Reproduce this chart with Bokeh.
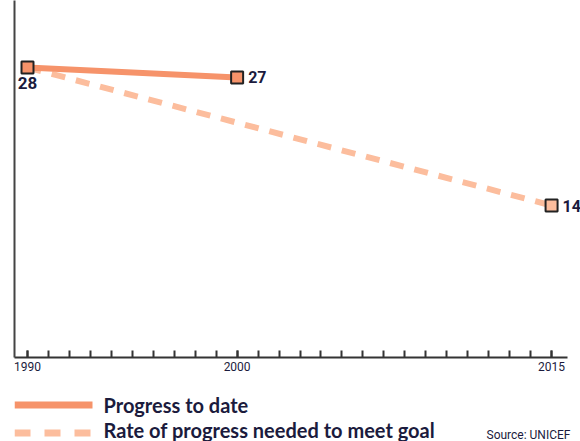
from bokeh.plotting import figure
from bokeh.layouts import column
from bokeh.models import FixedTicker, LabelSet, ColumnDataSource, Range1d
from bokeh.core.properties import value
from bokeh.embed import file_html
from bokeh.resources import INLINE

# ---- data ----
progress_years = [1990, 2000]
progress_values = [28, 27]
goal_years = [1990, 2015]
goal_values = [28, 14]
tick_label_years = [1990, 2000, 2015]
minor_years = list(range(1990, 2016))
legend_labels = ["Progress to date", "Rate of progress needed to meet goal"]
source_text = "Source: UNICEF"

SOLID = "#f6936a"
DASH = "#fcbd9d"
INK = "#1b1b3d"
NUMFONT = "Roboto"

X0, X1 = 1989.38, 2016.38

# ---- main chart ----
p = figure(width=580, height=382,
           x_range=Range1d(X0, X1), y_range=Range1d(-1.42, 34.8),
           output_backend="svg", toolbar_location=None,
           min_border_left=14, min_border_right=0, min_border_top=0, min_border_bottom=25)
p.outline_line_color = None
p.xgrid.visible = False
p.ygrid.visible = False

p.line(goal_years, goal_values, line_color=DASH, line_width=6, line_dash="14 11")
p.line(progress_years, progress_values, line_color=SOLID, line_width=6)
p.scatter(goal_years[-1:], goal_values[-1:], marker="square", size=12,
          fill_color=DASH, line_color="#222222", line_width=2)
p.scatter(progress_years, progress_values, marker="square", size=12,
          fill_color=SOLID, line_color="#222222", line_width=2)

first_src = ColumnDataSource(dict(x=progress_years[:1], y=progress_values[:1],
                                  t=[str(v) for v in progress_values[:1]]))
right_src = ColumnDataSource(dict(x=[progress_years[-1], goal_years[-1]],
                                  y=[progress_values[-1], goal_values[-1]],
                                  t=[str(progress_values[-1]), str(goal_values[-1])]))
p.add_layout(LabelSet(x="x", y="y", text="t", source=first_src, x_offset=0, y_offset=-9,
                      text_align="center", text_baseline="top", text_font=value(NUMFONT),
                      text_font_size="17px", text_font_style="bold", text_color=INK))
p.add_layout(LabelSet(x="x", y="y", text="t", source=right_src, x_offset=11, y_offset=0,
                      text_align="left", text_baseline="middle", text_font=value(NUMFONT),
                      text_font_size="16px", text_font_style="bold", text_color=INK))

xa = p.xaxis[0]
xa.bounds = (X0, 2015.76)
xa.ticker = FixedTicker(ticks=tick_label_years, minor_ticks=minor_years)
xa.major_tick_in = 7
xa.major_tick_out = 0
xa.minor_tick_in = 7
xa.minor_tick_out = 0
xa.axis_line_width = 2
xa.axis_line_color = "#333333"
xa.major_tick_line_width = 2
xa.minor_tick_line_width = 2
xa.major_tick_line_color = "#333333"
xa.minor_tick_line_color = "#333333"
xa.major_label_text_font = NUMFONT
xa.major_label_text_font_size = "12px"
xa.major_label_text_color = INK
xa.major_label_standoff = 4

ya = p.yaxis[0]
ya.ticker = FixedTicker(ticks=[])
ya.major_tick_in = 0
ya.major_tick_out = 0
ya.minor_tick_in = 0
ya.minor_tick_out = 0
ya.major_label_text_font_size = "0px"
ya.axis_line_width = 2
ya.axis_line_color = "#444444"

# ---- legend strip (x = page pixels, y grows downward from strip top) ----
q = figure(width=580, height=59, x_range=Range1d(14, 580), y_range=Range1d(59, 0),
           output_backend="svg", toolbar_location=None,
           x_axis_location=None, y_axis_location=None,
           min_border_left=14, min_border_right=0, min_border_top=0, min_border_bottom=0)
q.outline_line_color = None
q.grid.visible = False

row_y = [22.5, 47.5]
q.line([14, 92], [row_y[0], row_y[0]], line_color=SOLID, line_width=7)
q.line([14, 92], [50.5, 50.5], line_color=DASH, line_width=7, line_dash="16 14")
q.text([103, 103], row_y, text=legend_labels, text_font=value("Lato"),
       text_font_style="bold", text_font_size="20px", text_color=INK,
       text_baseline="middle", text_align="left")
q.text([486], [52], text=[source_text], text_font=value(NUMFONT),
       text_font_size="12px", text_color=INK, text_baseline="alphabetic")

layout = column(p, q, spacing=0)
open("out.html", "w").write(file_html(layout, INLINE))
